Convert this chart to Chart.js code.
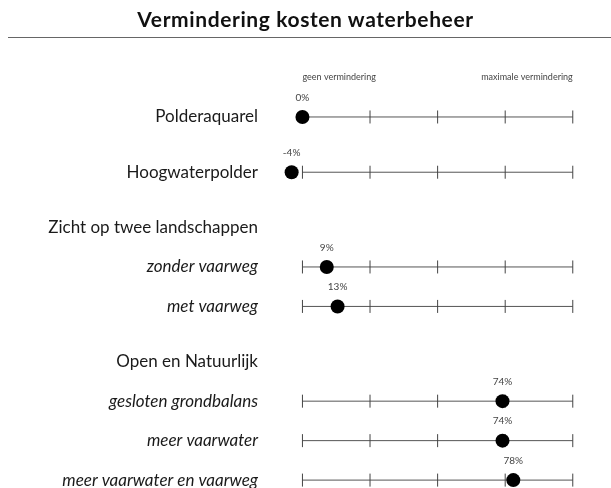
<!DOCTYPE html>
<html>
<head>
<meta charset="utf-8">
<script src="https://cdn.jsdelivr.net/npm/chart.js@4.4.0/dist/chart.umd.min.js"></script>
<style>
  html, body { margin: 0; padding: 0; background: #fff; }
  .wrap { position: relative; width: 611px; height: 488px; overflow: hidden; }
  .title {
    position: absolute; left: 0; top: 6px; width: 611px; height: 30px;
    text-align: center; line-height: 30px;
    font: bold 21px Lato, sans-serif; letter-spacing: 0.6px; color: #111;
  }
  .rule { position: absolute; left: 8px; top: 37px; width: 603px; height: 0; border-top: 1.5px solid #666; }
  canvas { position: absolute; left: 0; top: 0; }
</style>
</head>
<body>
<div class="wrap">
  <canvas id="chart" width="611" height="488"></canvas>
  <div class="title" id="title"></div>
  <div class="rule"></div>
</div>
<script>
const chartTitle = 'Vermindering kosten waterbeheer';
const categories = [
  'Polderaquarel',
  'Hoogwaterpolder',
  'Zicht op twee landschappen',
  'zonder vaarweg',
  'met vaarweg',
  'Open en Natuurlijk',
  'gesloten grondbalans',
  'meer vaarwater',
  'meer vaarwater en vaarweg'
];
const rowKinds = ['main', 'main', 'header', 'sub', 'sub', 'header', 'sub', 'sub', 'sub'];
const reductions = [0, -4, null, 9, 13, null, 74, 74, 78];
const tickValues = [0, 25, 50, 75, 100];
const scaleEnds = ['geen vermindering', 'maximale vermindering'];

const FONT = 'Lato, sans-serif';

document.getElementById('title').textContent = chartTitle;

// y position of each row: a wider gap between main entries and before a group header
const rowPos = [];
categories.forEach((c, i) => {
  if (i === 0) { rowPos.push(0); return; }
  const wide = rowKinds[i] === 'header' || rowKinds[i] === 'main';
  rowPos.push(rowPos[i - 1] + (wide ? 1.4 : 1));
});

const rows = reductions
  .map((v, i) => ({ v, y: rowPos[i] }))
  .filter(r => r.v !== null);

const rails = rows.map(r => ({
  type: 'line',
  data: [{ x: tickValues[0], y: r.y }, { x: tickValues[tickValues.length - 1], y: r.y }],
  borderColor: '#555',
  borderWidth: 1,
  pointRadius: 0,
  clip: false,
  order: 2
}));

const tickMarks = {
  data: rows.flatMap(r => tickValues.map(t => ({ x: t, y: r.y }))),
  pointStyle: 'line',
  rotation: 90,
  pointRadius: 6.5,
  borderColor: '#444',
  borderWidth: 1,
  clip: false,
  order: 1
};

const dots = {
  data: rows.map(r => ({ x: r.v, y: r.y })),
  pointRadius: 7,
  backgroundColor: '#000',
  borderWidth: 0,
  clip: false,
  order: 0
};

// value labels above the dots and the captions at both ends of the scale
const annotate = {
  id: 'annotate',
  afterDatasetsDraw(chart) {
    const { ctx, scales: { x, y } } = chart;
    ctx.save();
    ctx.fillStyle = '#444';
    ctx.textBaseline = 'middle';
    ctx.textAlign = 'center';
    ctx.font = '10px ' + FONT;
    rows.forEach(r => {
      ctx.fillText(r.v + '%', x.getPixelForValue(r.v), y.getPixelForValue(r.y) - 19.5);
    });
    ctx.font = '9px ' + FONT;
    const capY = y.getPixelForValue(rowPos[0] - 1);
    ctx.textAlign = 'left';
    ctx.fillText(scaleEnds[0], x.getPixelForValue(tickValues[0]), capY);
    ctx.textAlign = 'right';
    ctx.fillText(scaleEnds[1], x.getPixelForValue(tickValues[tickValues.length - 1]), capY);
    ctx.restore();
  }
};

new Chart(document.getElementById('chart'), {
  type: 'scatter',
  data: { datasets: [dots, tickMarks, ...rails] },
  plugins: [annotate],
  options: {
    responsive: false,
    animation: false,
    layout: { autoPadding: false, padding: { top: 70, bottom: 0, left: 0, right: 22 } },
    plugins: { legend: { display: false }, tooltip: { enabled: false } },
    scales: {
      x: { type: 'linear', min: -12, max: 106, display: false },
      y: {
        type: 'linear',
        reverse: true,
        min: -1.19,
        max: 9.4,
        grid: { display: false, drawTicks: false },
        border: { display: false },
        afterBuildTicks: s => { s.ticks = rowPos.map(v => ({ value: v })); },
        afterFit: s => {
          s.width = 270;
          s.paddingTop = 0;
          s.paddingBottom = 0;
        },
        ticks: {
          autoSkip: false,
          padding: 12,
          color: '#1a1a1a',
          callback: (v, i) => categories[i],
          font: c => ({
            family: FONT,
            size: 17,
            style: rowKinds[c.index] === 'sub' ? 'italic' : 'normal'
          })
        }
      }
    }
  }
});
</script>
</body>
</html>
